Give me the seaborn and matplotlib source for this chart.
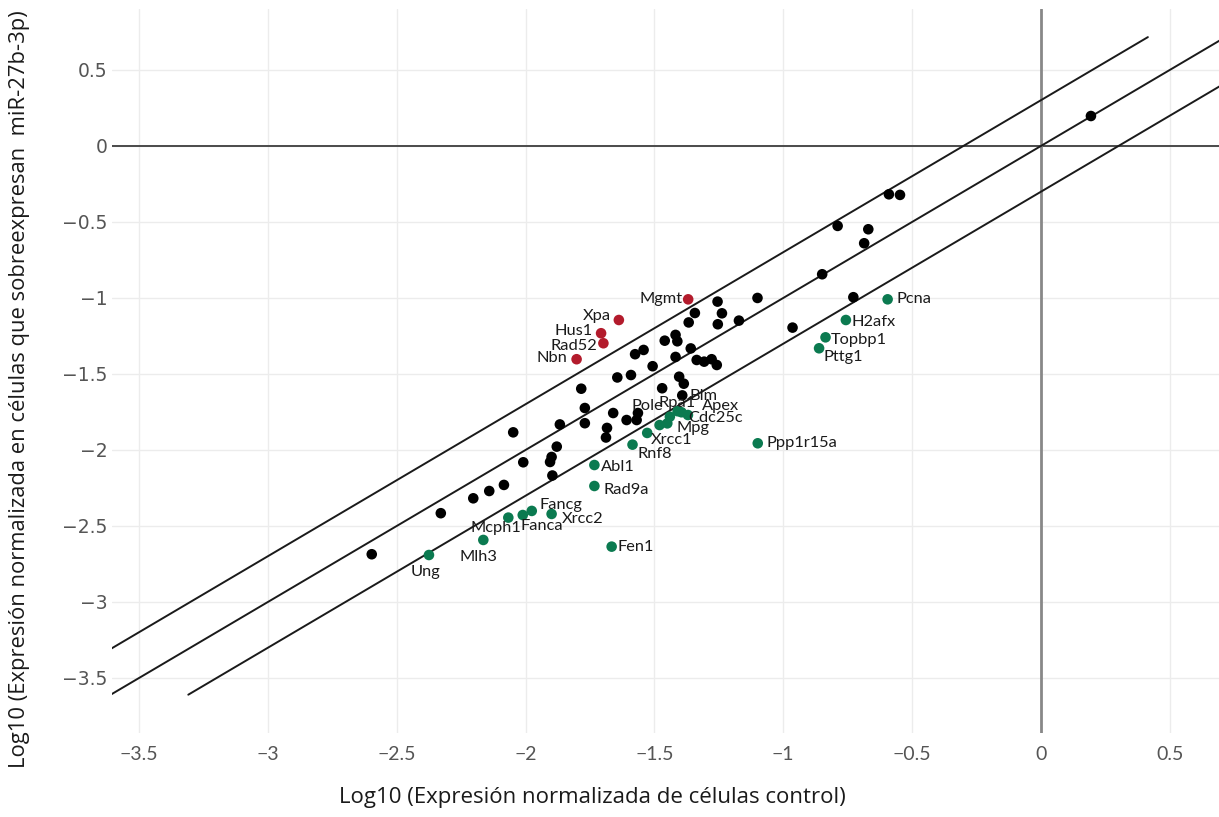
import numpy as np
import pandas as pd
import matplotlib
matplotlib.use("Agg")
import matplotlib.pyplot as plt
import seaborn as sns

# ---------------- data ----------------
black_x = [0.194, -0.590, -0.547, -0.789, -0.670, -0.686, -0.849, -0.728, -1.100, -1.255,
           -1.343, -1.238, -1.367, -1.254, -1.172, -0.964, -1.418, -1.411, -1.460, -1.542,
           -1.575, -1.359, -1.418, -1.507, -1.336, -1.307, -1.278, -1.258, -1.591, -1.644,
           -1.404, -1.386, -1.784, -1.470, -1.392, -1.770, -1.660, -1.564, -1.569, -1.608,
           -1.867, -1.770, -1.684, -1.688, -2.048, -1.879, -1.899, -1.905, -2.009, -1.896,
           -2.084, -2.141, -2.203, -2.329, -2.597]
black_y = [0.197, -0.318, -0.322, -0.526, -0.548, -0.640, -0.844, -0.995, -1.000, -1.024,
           -1.099, -1.101, -1.161, -1.173, -1.149, -1.195, -1.243, -1.285, -1.281, -1.342,
           -1.370, -1.332, -1.388, -1.449, -1.408, -1.419, -1.403, -1.441, -1.507, -1.523,
           -1.518, -1.564, -1.597, -1.594, -1.641, -1.724, -1.757, -1.757, -1.803, -1.803,
           -1.832, -1.824, -1.855, -1.918, -1.884, -1.978, -2.046, -2.079, -2.081, -2.168,
           -2.230, -2.270, -2.318, -2.416, -2.686]

up_genes = ["Mgmt", "Xpa", "Hus1", "Rad52", "Nbn"]
up_x = [-1.369, -1.638, -1.707, -1.698, -1.802]
up_y = [-1.009, -1.145, -1.232, -1.298, -1.403]

down_genes = ["Pcna", "H2afx", "Topbp1", "Pttg1", "Ppp1r15a", "Pole", "Rpa1", "Blm", "Apex",
              "Cdc25c", "Mpg", "Xrcc1", "Rnf8", "Abl1", "Rad9a", "Fancg", "Xrcc2", "Fanca",
              "Mcph1", "Mlh3", "Ung", "Fen1"]
down_x = [-0.595, -0.757, -0.836, -0.861, -1.099, -1.480, -1.440, -1.410, -1.395,
          -1.370, -1.450, -1.528, -1.585, -1.733, -1.733, -1.976, -1.899, -2.011,
          -2.067, -2.164, -2.375, -1.666]
down_y = [-1.009, -1.145, -1.259, -1.331, -1.956, -1.836, -1.781, -1.745, -1.752,
          -1.770, -1.825, -1.888, -1.965, -2.099, -2.237, -2.401, -2.421, -2.428,
          -2.445, -2.592, -2.691, -2.636]

# reference lines: y = x + offset (fold change 2 => log10(2))
fold = np.log10(2)
line_offsets = [fold, 0.0, -fold]
line_x_start = [-3.61, -3.61, -3.61 + fold]
line_x_end = [0.415, 0.75, 0.75]

x_ticks = [-3.5, -3, -2.5, -2, -1.5, -1, -0.5, 0, 0.5]
y_ticks = [0.5, 0, -0.5, -1, -1.5, -2, -2.5, -3, -3.5]
x_ticklabels = ["−3.5", "−3", "−2.5", "−2", "−1.5", "−1", "−0.5", "0", "0.5"]
y_ticklabels = ["0.5", "0", "−0.5", "−1", "−1.5", "−2", "−2.5", "−3", "−3.5"]

x_label = "Log10 (Expresión normalizada de células control)"
y_label = "Log10 (Expresión normalizada en células que sobreexpresan  miR-27b-3p)"

# ---------------- build frame ----------------
df = pd.concat([
    pd.DataFrame({"x": black_x, "y": black_y, "grupo": "ns", "gen": ""}),
    pd.DataFrame({"x": up_x, "y": up_y, "grupo": "up", "gen": up_genes}),
    pd.DataFrame({"x": down_x, "y": down_y, "grupo": "down", "gen": down_genes}),
], ignore_index=True)

# ---------------- style ----------------
sns.set_theme(style="white")
plt.rcParams["font.family"] = ["Lato", "DejaVu Sans"]
plt.rcParams["axes.unicode_minus"] = True

fig = plt.figure(figsize=(12.19, 8.17), dpi=100)
ax = fig.add_axes([112 / 1219, 1 - 733 / 817, 1 - 112 / 1219, (733 - 9) / 817])

ax.set_xlim(-3.605, 0.691)
ax.set_ylim(-3.862, 0.901)

ax.set_xticks(x_ticks)
ax.set_yticks(y_ticks)
ax.grid(True, color="#ececec", linewidth=1.0)
for s in ax.spines.values():
    s.set_visible(False)

ax.axhline(0, color="#4a4a4a", linewidth=1.4, zorder=1)
ax.axvline(0, color="#888888", linewidth=2.0, zorder=1)

for off, x0, x1 in zip(line_offsets, line_x_start, line_x_end):
    xs = np.array([x0, x1])
    sns.lineplot(x=xs, y=xs + off, ax=ax, color="#1a1a1a", linewidth=1.4, zorder=2)

palette = {"ns": "#000000", "up": "#b31b2c", "down": "#0b7a50"}
sns.scatterplot(data=df, x="x", y="y", hue="grupo", palette=palette, s=58,
                edgecolor="none", legend=False, ax=ax, zorder=3)

# label placement (offsets in pixels, alignment)
label_pos = {
    "Mgmt": (-6, 0, "right", "center"),
    "Xpa": (-8, 4, "right", "center"),
    "Hus1": (-8, 2, "right", "center"),
    "Rad52": (-6, -3, "right", "center"),
    "Nbn": (-9, 1, "right", "center"),
    "Pcna": (9, 0, "left", "center"),
    "H2afx": (6, -2, "left", "center"),
    "Topbp1": (5, -3, "left", "center"),
    "Pttg1": (4, -9, "left", "center"),
    "Ppp1r15a": (9, 0, "left", "center"),
    "Pole": (-28, 19, "left", "center"),
    "Rpa1": (-11, 14, "left", "center"),
    "Blm": (12, 15, "left", "center"),
    "Apex": (20, 6, "left", "center"),
    "Cdc25c": (0, -3, "left", "center"),
    "Mpg": (9, -5, "left", "center"),
    "Xrcc1": (4, -7, "left", "center"),
    "Rnf8": (5, -9, "left", "center"),
    "Abl1": (7, -2, "left", "center"),
    "Rad9a": (9, -4, "left", "center"),
    "Fancg": (8, 6, "left", "center"),
    "Xrcc2": (10, -5, "left", "center"),
    "Fanca": (-2, -11, "left", "center"),
    "Mcph1": (13, -10, "right", "center"),
    "Mlh3": (-5, -17, "center", "center"),
    "Ung": (-3, -17, "center", "center"),
    "Fen1": (6, 0, "left", "center"),
}
lab = df[df["gen"] != ""]
for _, r in lab.iterrows():
    dx, dy, ha, va = label_pos[r["gen"]]
    ax.annotate(r["gen"], (r["x"], r["y"]), xytext=(dx * 0.72, dy * 0.72),
                textcoords="offset points", ha=ha, va=va, fontsize=11.8,
                color="#1a1a1a", zorder=4)

ax.tick_params(axis="x", length=0, pad=9, labelsize=14, labelcolor="#555555")
ax.tick_params(axis="y", length=0, pad=3, labelcolor="#555555")
ax.set_xticklabels(x_ticklabels)
ax.set_yticklabels(y_ticklabels, fontfamily="DejaVu Sans", fontsize=13.5)

ax.set_xlabel(x_label, fontsize=16, color="#1a1a1a", fontfamily="Open Sans")
ax.set_ylabel(y_label, fontsize=15.8, color="#1a1a1a", fontfamily="Open Sans")
ax.xaxis.set_label_coords((592 - 112) / 1107, -(798 - 733) / 724, transform=ax.transAxes)
ax.yaxis.set_label_coords(-(112 - 20) / 1107, (733 - 389) / 724, transform=ax.transAxes)
ax.xaxis.label.set_va("center")
ax.yaxis.label.set_va("center")

fig.savefig("out.png", dpi=100)
